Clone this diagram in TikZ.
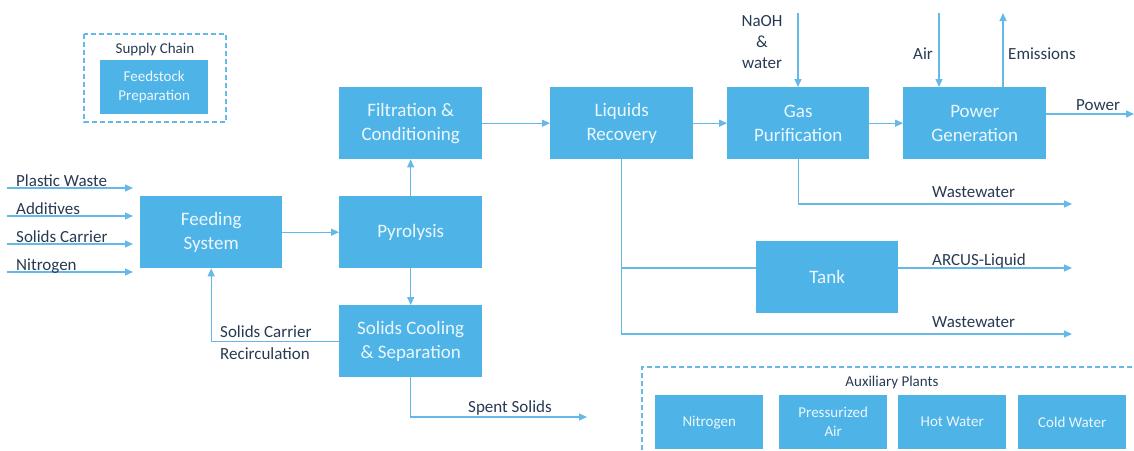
\documentclass[tikz,border=0pt]{standalone}
\usepackage{fontspec}
\setmainfont{Carlito}
\usetikzlibrary{arrows.meta}
\definecolor{boxblue}{RGB}{78,180,231}
\definecolor{lineblue}{RGB}{100,185,232}
\definecolor{txtdark}{RGB}{40,58,82}
\definecolor{boxtxt}{RGB}{236,247,253}
\begin{document}
\begin{tikzpicture}[x=1pt,y=-1pt,
  procbox/.style={fill=boxblue, draw=none, text=boxtxt, font=\fontsize{19}{24}\selectfont,
    align=center, inner sep=0pt, anchor=north west},
  smallbox/.style={fill=boxblue, draw=none, text=boxtxt, font=\fontsize{15}{19}\selectfont,
    align=center, inner sep=0pt, anchor=north west, minimum width=108pt, minimum height=54pt},
  arr/.style={draw=lineblue, line width=1.2pt, -{Triangle[length=8pt,width=7pt]}},
  plain/.style={draw=lineblue, line width=1.2pt},
  lbl/.style={text=txtdark, font=\fontsize{17}{21}\selectfont, inner sep=0pt, anchor=base west},
  grp/.style={draw=lineblue, line width=1.5pt, dash pattern=on 5pt off 3pt},
  grplbl/.style={text=txtdark, font=\fontsize{15}{18}\selectfont, inner sep=0pt, anchor=base}
]
\useasboundingbox (0,0) rectangle (1134,450);

% Supply chain group
\draw[grp] (84,34) rectangle (226,122);
\node[grplbl] (sclbl) at (155,53) {Supply Chain};
\node[smallbox, minimum width=108pt, minimum height=54pt] (feedstock) at (100,60) {Feedstock\\Preparation};

% Main process boxes
\node[procbox, minimum width=142pt, minimum height=72pt] (feed) at (140,196) {Feeding\\System};
\node[procbox, minimum width=143pt, minimum height=72pt] (filt) at (339,87) {Filtration \&\\Conditioning};
\node[procbox, minimum width=143pt, minimum height=72pt] (pyro) at (339,196) {Pyrolysis};
\node[procbox, minimum width=143pt, minimum height=72pt] (sol) at (339,305) {Solids Cooling\\\& Separation};
\node[procbox, minimum width=143pt, minimum height=72pt] (liq) at (550,87) {Liquids\\Recovery};
\node[procbox, minimum width=142pt, minimum height=72pt] (gas) at (727,87) {Gas\\Purification};
\node[procbox, minimum width=143pt, minimum height=72pt] (power) at (903,87) {Power\\Generation};
\node[procbox, minimum width=142pt, minimum height=72pt] (tank) at (756,241) {Tank};

% Inputs to feeding system
\coordinate (in1s) at (7,188); \coordinate (in1e) at (133,188);
\coordinate (in2s) at (7,216); \coordinate (in2e) at (133,216);
\coordinate (in3s) at (7,244); \coordinate (in3e) at (133,244);
\coordinate (in4s) at (7,272); \coordinate (in4e) at (133,272);
\draw[arr] (in1s) -- (in1e);
\draw[arr] (in2s) -- (in2e);
\draw[arr] (in3s) -- (in3e);
\draw[arr] (in4s) -- (in4e);
\node[lbl] (l1) at (16,186) {Plastic Waste};
\node[lbl] (l2) at (16,214) {Additives};
\node[lbl] (l3) at (16,242) {Solids Carrier};
\node[lbl] (l4) at (16,270) {Nitrogen};

% Main flow
\draw[arr] (feed) -- (pyro);
\draw[arr] (pyro.north) -- (filt.south);
\draw[arr] (pyro.south) -- (sol.north);
\draw[arr] (filt) -- (liq);
\draw[arr] (liq) -- (gas);
\draw[arr] (gas) -- (power);

% Recirculation
\draw[arr] (sol.west) -| (feed.south);
\node[lbl] (rec1) at (220,337) {Solids Carrier};
\node[lbl] (rec2) at (220,359) {Recirculation};

% Spent solids
\coordinate (spent) at (587,417);
\draw[arr] (sol.south) |- (spent);
\node[lbl] (spentlbl) at (468,412) {Spent Solids};

% Gas purification inputs/outputs
\coordinate (naoh) at (798,13);
\draw[arr] (naoh) -- (naoh |- gas.north);
\node[text=txtdark, font=\fontsize{17}{21}\selectfont, align=center, inner sep=0pt, anchor=north] (naohlbl) at (762,15) {NaOH\\\&\\water};
\coordinate (ww1) at (1072,204);
\draw[arr] (gas.south) |- (ww1);
\node[lbl] (ww1lbl) at (932,197) {Wastewater};

% Power generation
\coordinate (air) at (939,13);
\draw[arr] (air) -- (air |- power.north);
\node[lbl] (airlbl) at (913,59) {Air};
\coordinate (emis) at (1003,13);
\draw[arr] (emis |- power.north) -- (emis);
\node[lbl] (emislbl) at (1008,59) {Emissions};
\coordinate (pwr) at (1134,114);
\draw[arr] (power.east |- pwr) -- (pwr);
\node[lbl] (pwrlbl) at (1076,110) {Power};

% Liquids recovery outputs
\coordinate (ww2) at (1072,334);
\draw[arr] (liq.south) |- (ww2);
\draw[plain] (liq.south |- 0,268) -- (tank.west |- 0,268);
\coordinate (arcus) at (1072,268);
\draw[arr] (tank.east |- arcus) -- (arcus);
\node[lbl] (arcuslbl) at (932,265) {ARCUS-Liquid};
\node[lbl] (ww2lbl) at (932,327) {Wastewater};

% Auxiliary plants
\draw[grp] (642,450) -- (642,367) -- (1134,367);
\node[grplbl] (auxlbl) at (892,386) {Auxiliary Plants};
\node[smallbox] (auxn) at (655,395) {Nitrogen};
\node[smallbox] (auxa) at (779,395) {Pressurized\\Air};
\node[smallbox] (auxh) at (898,395) {Hot Water};
\node[smallbox] (auxc) at (1018,395) {Cold Water};
\end{tikzpicture}
\end{document}
